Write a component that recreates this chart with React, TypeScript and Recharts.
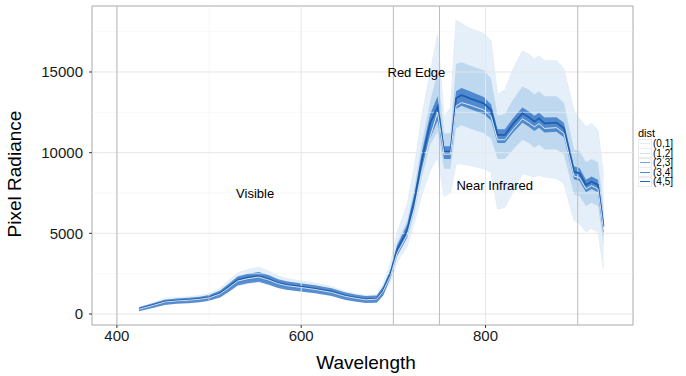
import { ComposedChart, Area, Line, XAxis, YAxis, ReferenceLine, ReferenceArea, ReferenceDot } from 'recharts'

// wavelength samples (nm)
const wavelength = [424, 440, 452, 465, 478, 490, 500, 512, 522, 531, 542, 554, 565, 575, 584, 599, 615, 633, 648, 660, 670, 682, 689, 697, 704, 715, 723, 731, 740, 748, 755, 762, 768, 774, 783, 798, 806, 813, 821, 830, 840, 847, 853, 858, 864, 877, 885, 896, 902, 909, 915, 922, 928]

// mean radiance
const meanRadiance = [310, 560, 760, 830, 870, 930, 1030, 1280, 1700, 2100, 2250, 2350, 2150, 1920, 1800, 1690, 1560, 1380, 1120, 1000, 910, 950, 1490, 2520, 3970, 5200, 7070, 9550, 11840, 12850, 10060, 10060, 13370, 13570, 13370, 13060, 12640, 11100, 11100, 11800, 12440, 12200, 11920, 12130, 11820, 11860, 11510, 8820, 8720, 8000, 8200, 8000, 5410]

// second group mean (white line)
const whiteRadiance = [290, 540, 740, 810, 850, 910, 1000, 1240, 1650, 2040, 2190, 2290, 2100, 1880, 1760, 1650, 1520, 1340, 1090, 970, 880, 920, 1420, 2380, 3750, 4900, 6600, 8900, 11000, 12500, 9900, 9900, 12900, 13100, 12950, 12650, 12250, 10800, 10800, 11450, 12100, 11850, 11600, 11800, 11500, 11550, 11200, 8550, 8450, 7750, 7950, 7750, 5250]

// outer envelope of all spectra
const outerHigh = [420, 700, 950, 1020, 1070, 1150, 1270, 1600, 2100, 2550, 2750, 2900, 2650, 2350, 2200, 2050, 1900, 1700, 1400, 1250, 1150, 1200, 1900, 3200, 5000, 6800, 9200, 12300, 15000, 17300, 12200, 12800, 18200, 18000, 17700, 17400, 16900, 13600, 13900, 15200, 16300, 16100, 15800, 16000, 15700, 15700, 15200, 12600, 12100, 11600, 11800, 11400, 8600]
const outerLow = [230, 440, 620, 690, 730, 790, 880, 1080, 1430, 1750, 1880, 1960, 1800, 1620, 1530, 1440, 1330, 1170, 930, 820, 740, 770, 1200, 2000, 3200, 4200, 5700, 7400, 8900, 9700, 7300, 7500, 9300, 9300, 9200, 9000, 8800, 6500, 6600, 7600, 8700, 8600, 8500, 8600, 8500, 8400, 8100, 5800, 5600, 5100, 5300, 5100, 2800]

// denser inner part of the spectra
const innerHigh = [350, 620, 830, 900, 950, 1010, 1120, 1400, 1850, 2300, 2450, 2550, 2350, 2080, 1950, 1820, 1680, 1500, 1230, 1100, 1010, 1060, 1650, 2800, 4400, 5800, 7900, 10600, 13200, 15000, 11200, 11200, 15500, 15600, 15400, 15100, 14600, 12300, 12400, 13300, 14100, 13900, 13600, 13800, 13500, 13500, 13100, 10200, 10100, 9400, 9600, 9400, 6600]
const innerLow = [270, 500, 690, 760, 800, 860, 950, 1170, 1560, 1920, 2060, 2150, 1970, 1760, 1660, 1560, 1440, 1270, 1020, 900, 820, 850, 1330, 2250, 3550, 4700, 6300, 8500, 10500, 11300, 9000, 9000, 11500, 11700, 11500, 11200, 10900, 9600, 9600, 10200, 10800, 10600, 10300, 10500, 10200, 10200, 9900, 7400, 7300, 6700, 6900, 6700, 4300]

// tight cluster of spectra around the mean
const coreHigh = [420, 680, 890, 960, 1010, 1070, 1180, 1450, 1900, 2330, 2490, 2600, 2400, 2160, 2030, 1910, 1780, 1590, 1330, 1200, 1110, 1150, 1720, 2760, 4250, 5550, 7500, 10050, 12400, 13500, 10400, 10400, 13800, 14000, 13800, 13450, 13000, 11450, 11450, 12150, 12800, 12550, 12280, 12480, 12180, 12200, 11850, 9150, 9050, 8320, 8520, 8320, 5800]
const coreLow = [170, 380, 560, 630, 670, 730, 820, 1030, 1400, 1760, 1900, 2000, 1820, 1610, 1500, 1400, 1280, 1110, 870, 760, 680, 700, 1150, 2250, 3600, 4750, 6500, 8800, 10900, 12000, 9600, 9600, 12700, 12900, 12700, 12400, 12000, 10600, 10600, 11250, 11850, 11600, 11350, 11550, 11250, 11300, 10950, 8350, 8250, 7550, 7750, 7550, 4900]

const xTicks = [400, 600, 800]
const yTicks = [0, 5000, 10000, 15000]
const yMinor = [2500, 7500, 12500, 17500]
const xMinor = [500, 700, 900]
const regionLines = [400, 700, 750, 900]
const legendLabels = ['(0,1]', '(1,2]', '(2,3]', '(3,4]', '(4,5]']
const legendColors = ['#e4eef8', '#d2e3f3', '#6fa7da', '#4a8bcf', '#2066bb']

const data = wavelength.map((w, i) => ({
  w,
  mean: meanRadiance[i],
  white: whiteRadiance[i],
  outer: [outerLow[i], outerHigh[i]],
  inner: [innerLow[i], innerHigh[i]],
  core: [coreLow[i], coreHigh[i]],
}))

const X_DOMAIN: [number, number] = [373, 960]
const Y_DOMAIN: [number, number] = [-682, 19090]
const FONT = '"Liberation Sans", Arial, Helvetica, sans-serif'

const Legend = () => (
  <div style={{ position: 'absolute', left: 638, top: 127, fontFamily: FONT, color: '#000' }}>
    <div style={{ fontSize: 11, lineHeight: '12px' }}>dist</div>
    {legendLabels.map((l, i) => (
      <div key={l} style={{ display: 'flex', alignItems: 'center', height: 9.5 }}>
        <div style={{ width: 12, height: 8, border: '1px solid #ececec', background: '#fff', position: 'relative' }}>
          <div style={{ position: 'absolute', left: 1, right: 1, top: 3.5, height: 1, background: legendColors[i] }} />
        </div>
        <span style={{ fontSize: 10, lineHeight: '9.5px', marginLeft: 1 }}>{l}</span>
      </div>
    ))}
  </div>
)

export default function App() {
  return (
    <div style={{ position: 'absolute', left: 0, top: 0, width: 686, height: 376, background: '#fff', overflow: 'hidden' }}>
      <ComposedChart width={686} height={376} data={data} margin={{ top: 6, right: 53, bottom: 0, left: 0 }}>
        <XAxis
          dataKey="w"
          type="number"
          domain={X_DOMAIN}
          ticks={xTicks}
          allowDataOverflow
          axisLine={false}
          tickLine={{ stroke: '#333' }}
          tickSize={3}
          height={51}
          tick={{ fill: '#1a1a1a', fontSize: 15, fontFamily: FONT }}
          label={() => (
            <text x={366} y={369} textAnchor="middle" fontSize={19} fontFamily={FONT} fill="#000">Wavelength</text>
          )}
        />
        <YAxis
          type="number"
          domain={Y_DOMAIN}
          ticks={yTicks}
          allowDataOverflow
          axisLine={false}
          tickLine={{ stroke: '#333' }}
          tickSize={3}
          tickMargin={6}
          width={92}
          tick={{ fill: '#1a1a1a', fontSize: 15, fontFamily: FONT }}
          label={() => (
            <text x={21} y={174} transform="rotate(-90 21 174)" textAnchor="middle" fontSize={19} fontFamily={FONT} fill="#000">Pixel Radiance</text>
          )}
        />
        {yMinor.map((v) => (
          <ReferenceLine key={`ym${v}`} y={v} stroke="#f3f3f3" strokeWidth={0.6} />
        ))}
        {xMinor.map((v) => (
          <ReferenceLine key={`xm${v}`} x={v} stroke="#f3f3f3" strokeWidth={0.6} />
        ))}
        {yTicks.map((v) => (
          <ReferenceLine key={`y${v}`} y={v} stroke="#e6e6e6" strokeWidth={1} />
        ))}
        {xTicks.map((v) => (
          <ReferenceLine key={`x${v}`} x={v} stroke="#e6e6e6" strokeWidth={1} />
        ))}
        {regionLines.map((v) => (
          <ReferenceLine key={`r${v}`} x={v} stroke="#bdbdbd" strokeWidth={1} />
        ))}
        <Area dataKey="outer" type="linear" stroke="#e3eef8" strokeWidth={1} fill="#d4e5f5" fillOpacity={0.6} isAnimationActive={false} />
        <Area dataKey="inner" type="linear" stroke="none" fill="#9fc5ea" fillOpacity={0.55} isAnimationActive={false} />
        <Area dataKey="core" type="linear" stroke="none" fill="#3476c4" fillOpacity={0.8} isAnimationActive={false} />
        <Line dataKey="mean" type="linear" stroke="#1d5fb0" strokeWidth={1.8} dot={false} isAnimationActive={false} />
        <Line dataKey="white" type="linear" stroke="#ffffff" strokeWidth={0.9} strokeOpacity={0.9} dot={false} isAnimationActive={false} />
        <ReferenceDot x={725} y={15000} r={0} fill="none" stroke="none" label={{ value: 'Red Edge', position: 'center', fontSize: 13, fontFamily: FONT, fill: '#000' }} />
        <ReferenceDot x={550} y={7500} r={0} fill="none" stroke="none" label={{ value: 'Visible', position: 'center', fontSize: 13, fontFamily: FONT, fill: '#000' }} />
        <ReferenceDot x={810} y={8000} r={0} fill="none" stroke="none" label={{ value: 'Near Infrared', position: 'center', fontSize: 13, fontFamily: FONT, fill: '#000' }} />
        <ReferenceArea x1={X_DOMAIN[0]} x2={X_DOMAIN[1]} y1={Y_DOMAIN[0]} y2={Y_DOMAIN[1]} fill="none" stroke="#a8a8a8" strokeWidth={1} ifOverflow="visible" />
      </ComposedChart>
      <Legend />
    </div>
  )
}
